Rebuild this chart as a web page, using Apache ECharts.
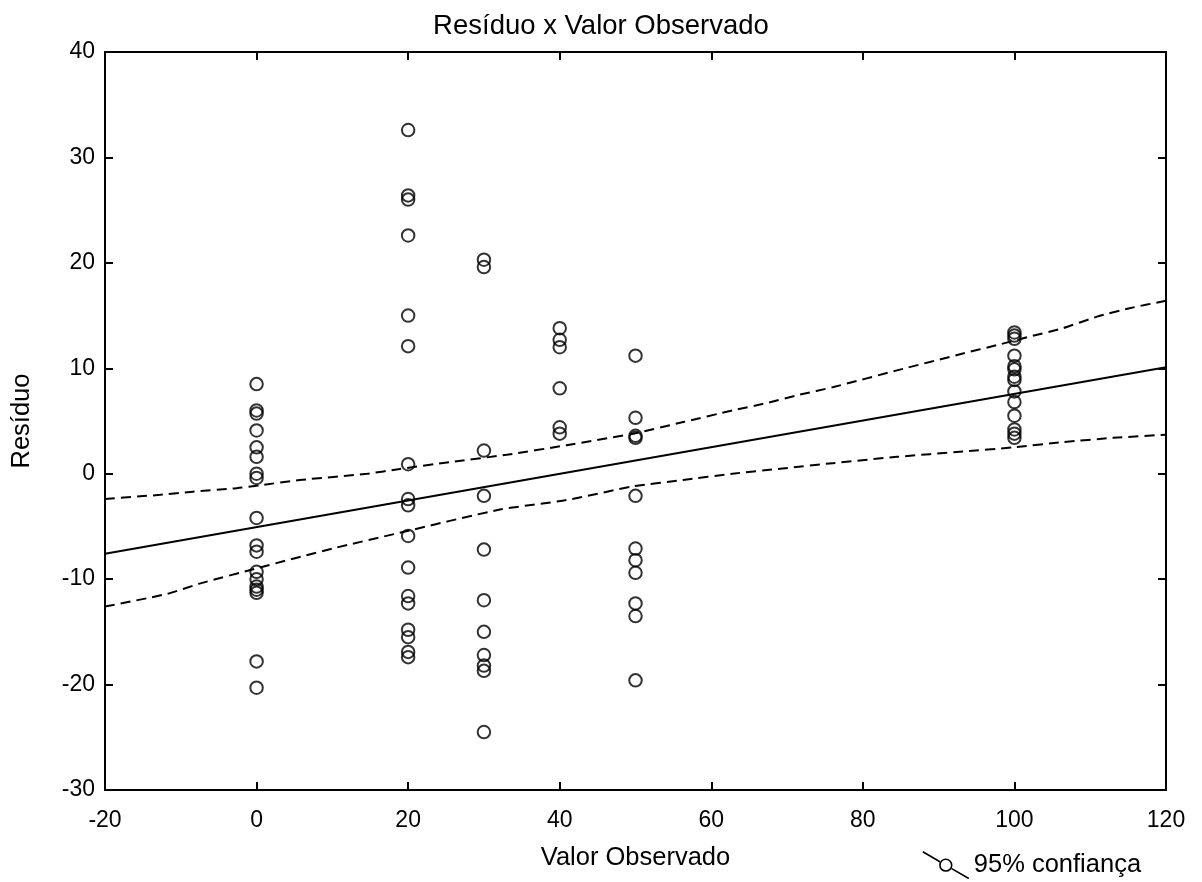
<!DOCTYPE html>
<html>
<head>
<meta charset="utf-8">
<script src="https://cdn.jsdelivr.net/npm/echarts@6/dist/echarts.min.js"></script>
<style>
  html, body { margin: 0; padding: 0; background: #fff; }
  #chart { width: 1202px; height: 882px; }
</style>
</head>
<body>
<div id="chart"></div>
<script>
var obsValues = [0, 20, 30, 40, 50, 100];
var res0 = [8.5, 6.0, 5.7, 4.1, 2.5, 1.6, 0.0, -0.4, -4.2, -6.8, -7.4, -9.3, -10.0, -10.7, -11.0, -11.3, -17.8, -20.3];
var res20 = [32.6, 26.4, 26.0, 22.6, 15.0, 12.1, 0.9, -2.4, -3.0, -5.9, -8.9, -11.6, -12.3, -14.8, -15.5, -16.9, -17.4];
var res30 = [20.3, 19.6, 2.2, -2.1, -7.2, -12.0, -15.0, -17.2, -18.2, -18.7, -24.5];
var res40 = [13.8, 12.7, 12.0, 8.1, 4.4, 3.8];
var res50 = [11.2, 5.3, 3.6, 3.4, -2.1, -7.1, -8.2, -9.4, -12.3, -13.5, -19.6];
var res100 = [13.4, 13.1, 12.8, 11.2, 10.2, 9.9, 9.2, 8.9, 7.8, 6.8, 5.5, 4.2, 3.8, 3.4];
var residuals = [res0, res20, res30, res40, res50, res100];

// reta de regressao
var fitX = [-20, 120];
var fitY = [-7.6, 10.1];

// faixa de 95% de confianca
var upperX = [-20, -12.7, -8.4, -3.1, 0.4, 5.7, 14.6, 18.9, 25.5, 33.0, 40.9, 49.7, 56.3, 62.8, 67.3, 71.7, 76.0, 84.5, 93.2, 97.7, 102.0, 106.4, 110.9, 115.2, 120];
var upperY = [-2.4, -2.0, -1.7, -1.4, -1.1, -0.6, 0.0, 0.45, 1.1, 1.8, 2.7, 3.8, 4.9, 6.0, 6.7, 7.5, 8.2, 9.8, 11.4, 12.2, 13.0, 13.8, 14.9, 15.7, 16.4];
var lowerX = [-20, -11.8, -7.4, 0.4, 10.0, 18.9, 32.1, 40.9, 49.7, 56.3, 62.8, 69.4, 76.0, 84.5, 93.2, 99.8, 106.4, 113.0, 120];
var lowerY = [-12.6, -11.4, -10.4, -8.9, -7.1, -5.6, -3.4, -2.5, -1.2, -0.6, 0.0, 0.5, 1.0, 1.6, 2.1, 2.5, 3.0, 3.4, 3.7];

function zip(xs, ys) {
    var out = [];
    for (var i = 0; i < xs.length; i++) out.push([xs[i], ys[i]]);
    return out;
}

var points = [];
for (var i = 0; i < obsValues.length; i++) {
    for (var j = 0; j < residuals[i].length; j++) {
        points.push([obsValues[i], residuals[i][j]]);
    }
}

var font = 'Liberation Sans, Arial, sans-serif';
var black = '#000';

var chart = echarts.init(document.getElementById('chart'), null, { renderer: 'canvas' });

var tickStyle = { show: true, inside: true, length: 8, lineStyle: { color: black, width: 2 } };
var lineStyle = { show: true, onZero: false, lineStyle: { color: black, width: 2 } };

var option = {
    backgroundColor: '#fff',
    animation: false,
    title: {
        text: 'Resíduo x Valor Observado',
        left: 'center',
        top: 7,
        textStyle: { fontFamily: font, fontSize: 27.5, fontWeight: 'normal', color: black }
    },
    legend: {
        left: 917,
        top: 846,
        itemWidth: 46,
        itemHeight: 27,
        data: [{
            name: '95% confiança',
            icon: 'path://M0,0 L16,9.3 M27,15.7 L43,25 M27,12.5 A5.5,5.5 0 1 1 16,12.5 A5.5,5.5 0 1 1 27,12.5'
        }],
        itemStyle: { color: 'transparent', borderColor: black, borderWidth: 1.6 },
        textStyle: { fontFamily: font, fontSize: 25.5, color: black }
    },
    grid: { left: 105, right: 36, top: 52, bottom: 92, containLabel: false },
    xAxis: [{
        type: 'value',
        min: -20, max: 120, interval: 20,
        position: 'bottom',
        name: 'Valor Observado',
        nameLocation: 'middle',
        nameGap: 55,
        nameTextStyle: { fontFamily: font, fontSize: 25.5, color: black },
        axisLine: lineStyle,
        axisTick: tickStyle,
        axisLabel: { margin: 19, fontFamily: font, fontSize: 23, color: black },
        splitLine: { show: false }
    }, {
        type: 'value',
        min: -20, max: 120, interval: 20,
        position: 'top',
        axisLine: lineStyle,
        axisTick: tickStyle,
        axisLabel: { show: false },
        splitLine: { show: false }
    }],
    yAxis: [{
        type: 'value',
        min: -30, max: 40, interval: 10,
        position: 'left',
        name: 'Resíduo',
        nameLocation: 'middle',
        nameGap: 70,
        nameTextStyle: { fontFamily: font, fontSize: 25.5, color: black },
        axisLine: lineStyle,
        axisTick: tickStyle,
        axisLabel: { margin: 10, fontFamily: font, fontSize: 23, color: black },
        splitLine: { show: false }
    }, {
        type: 'value',
        min: -30, max: 40, interval: 10,
        position: 'right',
        axisLine: lineStyle,
        axisTick: tickStyle,
        axisLabel: { show: false },
        splitLine: { show: false }
    }],
    series: [{
        name: 'Residuos',
        type: 'scatter',
        data: points,
        symbol: 'circle',
        symbolSize: 12.5,
        itemStyle: { color: 'transparent', borderColor: black, borderWidth: 2 },
        z: 3
    }, {
        name: 'Ajuste',
        type: 'line',
        data: zip(fitX, fitY),
        showSymbol: false,
        lineStyle: { color: black, width: 2, type: 'solid' },
        z: 2
    }, {
        name: '95% confiança',
        type: 'line',
        data: zip(upperX, upperY),
        showSymbol: false,
        smooth: 0.2,
        lineStyle: { color: black, width: 2, type: [10, 6] },
        z: 2
    }, {
        name: '95% confiança',
        type: 'line',
        data: zip(lowerX, lowerY),
        showSymbol: false,
        smooth: 0.2,
        lineStyle: { color: black, width: 2, type: [10, 6] },
        z: 2
    }]
};

chart.setOption(option);
</script>
</body>
</html>
